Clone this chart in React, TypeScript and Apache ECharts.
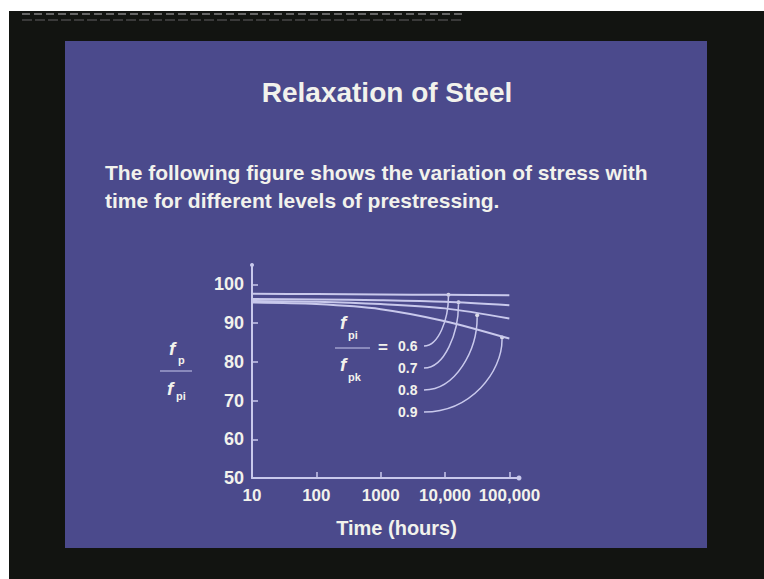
import React, { useEffect, useRef } from "react";
import * as echarts from "echarts";

// ---- data ----
const times = [10, 100, 1000, 10000, 100000];
const ratio06 = [97.6, 97.5, 97.4, 97.3, 97.2];
const ratio07 = [96.2, 96.1, 95.9, 95.5, 94.6];
const ratio08 = [95.7, 95.5, 94.9, 93.8, 91.2];
const ratio09 = [95.3, 94.9, 93.6, 90.5, 86.0];
const ratioLabels = ["0.6", "0.7", "0.8", "0.9"];
const tipTimes = [11300, 16200, 31600, 77000];
const tipValues = [97.3, 95.4, 92.0, 86.3];
const xTickValues = [10, 100, 1000, 10000, 100000];
const xTickLabels = ["10", "100", "1000", "10,000", "100,000"];
const yMin = 50;
const yMax = 105;
const yInterval = 10;

const SANS = '"Liberation Sans", Arial, sans-serif';
const TXT = "#f2f2ec";
const LINE = "#c9c9ec";
const BLUE = "#4b4a8c";
const BLACK = "#121411";

function txt(text: string, x: number, y: number, font: string, align = "left", fill = TXT) {
  return {
    type: "text",
    x,
    y,
    style: {
      text,
      fill,
      font,
      align,
      verticalAlign: "middle",
      textAlign: align,
      textVerticalAlign: "middle",
    },
  };
}

export default function App() {
  const ref = useRef<HTMLDivElement>(null);
  useEffect(() => {
    const chart = echarts.init(ref.current!, null, { renderer: "svg" });
    const allSeries = [ratio06, ratio07, ratio08, ratio09];
    const lines = allSeries.map((vals, i) => ({
      type: "line",
      name: ratioLabels[i],
      data: times.map((t, j) => [t, vals[j]]),
      smooth: 0.3,
      showSymbol: false,
      lineStyle: { color: LINE, width: 2 },
      silent: true,
    }));
    chart.setOption({
      animation: false,
      backgroundColor: BLUE,
      grid: { left: 252, top: 265, width: 267, height: 213 },
      xAxis: {
        type: "log",
        logBase: 10,
        min: 10,
        max: 141254,
        name: "Time (hours)",
        nameLocation: "middle",
        nameGap: 40,
        nameTextStyle: { color: TXT, fontFamily: SANS, fontWeight: "bold", fontSize: 20, padding: [0, 0, 0, 22] },
        axisLine: { lineStyle: { color: LINE, width: 2 }, symbol: ["none", "circle"], symbolSize: [5, 5] },
        axisTick: { inside: true, length: 6, lineStyle: { color: LINE, width: 1.5 } },
        splitLine: { show: false },
        axisLabel: {
          color: TXT,
          fontFamily: SANS,
          fontWeight: "bold",
          fontSize: 17,
          margin: 9,
          showMaxLabel: false,
          formatter: (v: number) => {
            const i = xTickValues.findIndex((t) => Math.abs(t - v) / t < 1e-6);
            return i >= 0 ? xTickLabels[i] : "";
          },
        },
      },
      yAxis: {
        type: "value",
        min: yMin,
        max: yMax,
        interval: yInterval,
        axisLine: { lineStyle: { color: LINE, width: 2 }, symbol: ["none", "circle"], symbolSize: [4, 4] },
        axisTick: { inside: true, length: 6, lineStyle: { color: LINE, width: 1.5 } },
        splitLine: { show: false },
        axisLabel: { color: TXT, fontFamily: SANS, fontWeight: "bold", fontSize: 18, margin: 8, showMaxLabel: false },
      },
      series: [
        ...lines,
        {
          type: "scatter",
          data: tipTimes.map((t, i) => [t, tipValues[i]]),
          symbolSize: 4,
          itemStyle: { color: "#ffffff" },
          silent: true,
        },
      ],
    });

    const tips = tipTimes.map((t, i) => chart.convertToPixel({ gridIndex: 0 }, [t, tipValues[i]]) as number[]);
    const labelY = [346, 368, 390, 412];
    const arrows = tips.map((p, i) => {
      const sx = 424;
      const sy = labelY[i];
      const tx = p[0];
      const ty = p[1] + 2;
      return {
        type: "bezierCurve",
        shape: {
          x1: sx,
          y1: sy,
          x2: tx,
          y2: ty,
          cpx1: sx + (tx - sx) * 0.6,
          cpy1: sy,
          cpx2: tx,
          cpy2: ty + (sy - ty) * 0.45,
        },
        style: { stroke: LINE, lineWidth: 1.5, fill: "none" },
        silent: true,
      };
    });

    const bold = (s: number) => `bold ${s}px ${SANS}`;
    const italic = (s: number) => `italic bold ${s}px ${SANS}`;

    chart.setOption({
      graphic: {
        elements: [
          // photo frame
          { type: "rect", shape: { x: 0, y: 0, width: 764, height: 11 }, style: { fill: "#ffffff" } },
          { type: "rect", shape: { x: 0, y: 0, width: 9, height: 579 }, style: { fill: "#ffffff" } },
          { type: "rect", shape: { x: 9, y: 11, width: 755, height: 30 }, style: { fill: BLACK } },
          { type: "rect", shape: { x: 9, y: 548, width: 755, height: 31 }, style: { fill: BLACK } },
          { type: "rect", shape: { x: 9, y: 41, width: 56, height: 507 }, style: { fill: BLACK } },
          { type: "rect", shape: { x: 707, y: 41, width: 57, height: 507 }, style: { fill: BLACK } },
          { type: "line", shape: { x1: 22, y1: 14, x2: 462, y2: 14 }, style: { stroke: "#666", lineWidth: 2, lineDash: [8, 4] } },
          { type: "line", shape: { x1: 22, y1: 20, x2: 462, y2: 20 }, style: { stroke: "#3a3a3a", lineWidth: 2, lineDash: [10, 3] } },
          // slide texts
          txt("Relaxation of Steel", 387, 92, bold(28), "center"),
          txt("The following figure shows the variation of stress with", 105, 172, bold(21)),
          txt("time for different levels of prestressing.", 105, 200, bold(21)),
          // y axis name fraction
          txt("f", 169, 348, italic(19)),
          txt("p", 178, 360, bold(11)),
          { type: "line", shape: { x1: 160, y1: 371, x2: 192, y2: 371 }, style: { stroke: LINE, lineWidth: 1 } },
          txt("f", 167, 388, italic(19)),
          txt("pi", 176, 396, bold(11)),
          // ratio fraction
          txt("f", 340, 322, italic(19)),
          txt("pi", 348, 335, bold(11)),
          { type: "line", shape: { x1: 335, y1: 348, x2: 370, y2: 348 }, style: { stroke: LINE, lineWidth: 1 } },
          txt("=", 383, 347, bold(17), "center"),
          txt("f", 340, 364, italic(19)),
          txt("pk", 348, 377, bold(11)),
          ...ratioLabels.map((l, i) => txt(l, 398, labelY[i], bold(14))),
          ...arrows,
        ],
      },
    });
    return () => chart.dispose();
  }, []);
  return <div ref={ref} style={{ position: "fixed", left: 0, top: 0, width: 764, height: 579 }} />;
}
